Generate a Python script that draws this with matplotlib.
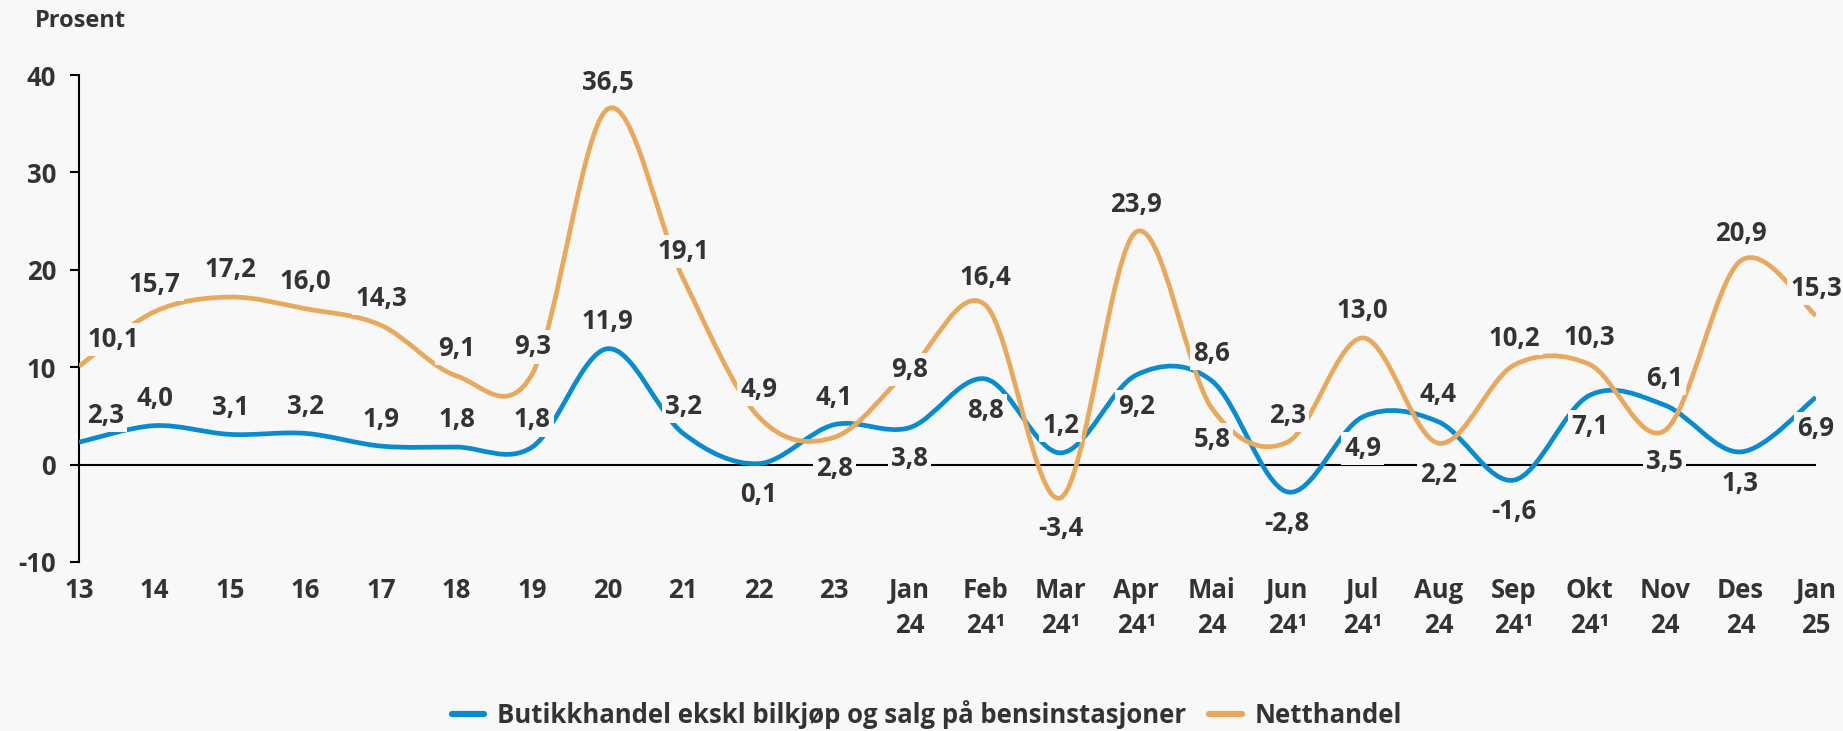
import matplotlib
matplotlib.use("Agg")
import matplotlib.pyplot as plt
from matplotlib.path import Path
from matplotlib.patches import PathPatch
from matplotlib.lines import Line2D
import numpy as np

plt.rcParams['font.family'] = ['Open Sans', 'DejaVu Sans']

categories = ['13', '14', '15', '16', '17', '18', '19', '20', '21', '22', '23',
              'Jan\n24', 'Feb\n24¹', 'Mar\n24¹', 'Apr\n24¹', 'Mai\n24', 'Jun\n24¹',
              'Jul\n24¹', 'Aug\n24', 'Sep\n24¹', 'Okt\n24¹', 'Nov\n24', 'Des\n24', 'Jan\n25']
butikk = [2.3, 4.0, 3.1, 3.2, 1.9, 1.8, 1.8, 11.9, 3.2, 0.1, 4.1, 3.8,
          8.8, 1.2, 9.2, 8.6, -2.8, 4.9, 4.4, -1.6, 7.1, 6.1, 1.3, 6.9]
netthandel = [10.1, 15.7, 17.2, 16.0, 14.3, 9.1, 9.3, 36.5, 19.1, 4.9, 2.8, 9.8,
              16.4, -3.4, 23.9, 5.8, 2.3, 13.0, 2.2, 10.2, 10.3, 3.5, 20.9, 15.3]
series_names = ['Butikkhandel ekskl bilkjøp og salg på bensinstasjoner', 'Netthandel']
yticks = [-10, 0, 10, 20, 30, 40]

# label placement (a = above, b = below, c = centre)
butikk_pos = ['a', 'a', 'a', 'a', 'a', 'a', 'a', 'a', 'a', 'b', 'a', 'b',
              'b', 'a', 'b', 'a', 'b', 'b', 'a', 'b', 'b', 'a', 'b', 'b']
nett_pos = ['a', 'a', 'a', 'a', 'a', 'a', 'a', 'a', 'a', 'a', 'b', 'c',
            'a', 'b', 'a', 'b', 'a', 'a', 'b', 'a', 'a', 'b', 'a', 'a']

BG = '#f8f8f8'
TXT = '#333333'
BLUE = '#0a8bd0'
ORANGE = '#e8a95e'
FS = 18.5
W = 'bold'

fig = plt.figure(figsize=(18.43, 7.31), dpi=100, facecolor=BG)
ax = fig.add_axes([0.0429, 0.2312, 0.9424, 0.6662], facecolor=BG)

x = np.arange(len(categories))


def smooth_path(xs, ys):
    xs = np.asarray(xs, float)
    ys = np.asarray(ys, float)
    pts = np.column_stack([xs, ys])
    ext = np.vstack([pts[0], pts, pts[-1]])
    verts = [tuple(pts[0])]
    codes = [Path.MOVETO]
    for i in range(len(pts) - 1):
        p0, p1, p2, p3 = ext[i], ext[i + 1], ext[i + 2], ext[i + 3]
        c1 = p1 + (p2 - p0) / 6.0
        c2 = p2 - (p3 - p1) / 6.0
        verts += [tuple(c1), tuple(c2), tuple(p2)]
        codes += [Path.CURVE4] * 3
    return Path(verts, codes)


ax.axhline(0, color='black', lw=1.5, zorder=2)
for vals, col in [(butikk, BLUE), (netthandel, ORANGE)]:
    patch = PathPatch(smooth_path(x, vals), facecolor='none', edgecolor=col,
                      lw=3.4, capstyle='butt', joinstyle='round', zorder=3)
    ax.add_patch(patch)

ax.set_xlim(0, len(categories) - 1)
ax.set_ylim(-10, 40)


def fmt(v):
    return f"{v:.1f}".replace('.', ',')


for vals, poss in [(butikk, butikk_pos), (netthandel, nett_pos)]:
    for i, (v, p) in enumerate(zip(vals, poss)):
        dy = {'a': 19.5, 'b': -22.5, 'c': 0}[p]
        dx = 0
        ha = 'center'
        if i == 0:
            ha = 'left'
            dx = 6
        ax.annotate(fmt(v), (x[i], v), xytext=(dx, dy), textcoords='offset points',
                    ha=ha, va='center', fontsize=FS, fontweight=W, color=TXT,
                    zorder=10, annotation_clip=False,
                    bbox=dict(boxstyle='square,pad=0.12', facecolor=BG, edgecolor='none'))

ax.set_xticks(x)
ax.set_xticklabels(categories, fontsize=FS, fontweight=W, color=TXT, linespacing=1.35)
ax.set_yticks(yticks)
ax.set_yticklabels([str(t) for t in yticks], fontsize=FS, fontweight=W, color=TXT)
ax.tick_params(axis='x', length=0, pad=11)
ax.tick_params(axis='y', length=6.5, width=1.5, color='black', pad=10)

for s in ['top', 'right', 'bottom']:
    ax.spines[s].set_visible(False)
ax.spines['left'].set_color('black')
ax.spines['left'].set_linewidth(1.5)

fig.text(35 / 1843, 1 - 21 / 731, 'Prosent', fontsize=17, fontweight=W, color=TXT,
         ha='left', va='center')

handles = [Line2D([], [], color=BLUE, lw=4.5, solid_capstyle='round'),
           Line2D([], [], color=ORANGE, lw=4.5, solid_capstyle='round')]
fig.legend(handles, series_names, loc='center', bbox_to_anchor=(0.503, 1 - 715 / 731),
           ncol=2, frameon=False, prop={'size': FS, 'weight': W},
           labelcolor=TXT, handlelength=1.25, handletextpad=0.5, columnspacing=0.9)

fig.savefig('out.png', dpi=100, facecolor=BG)
